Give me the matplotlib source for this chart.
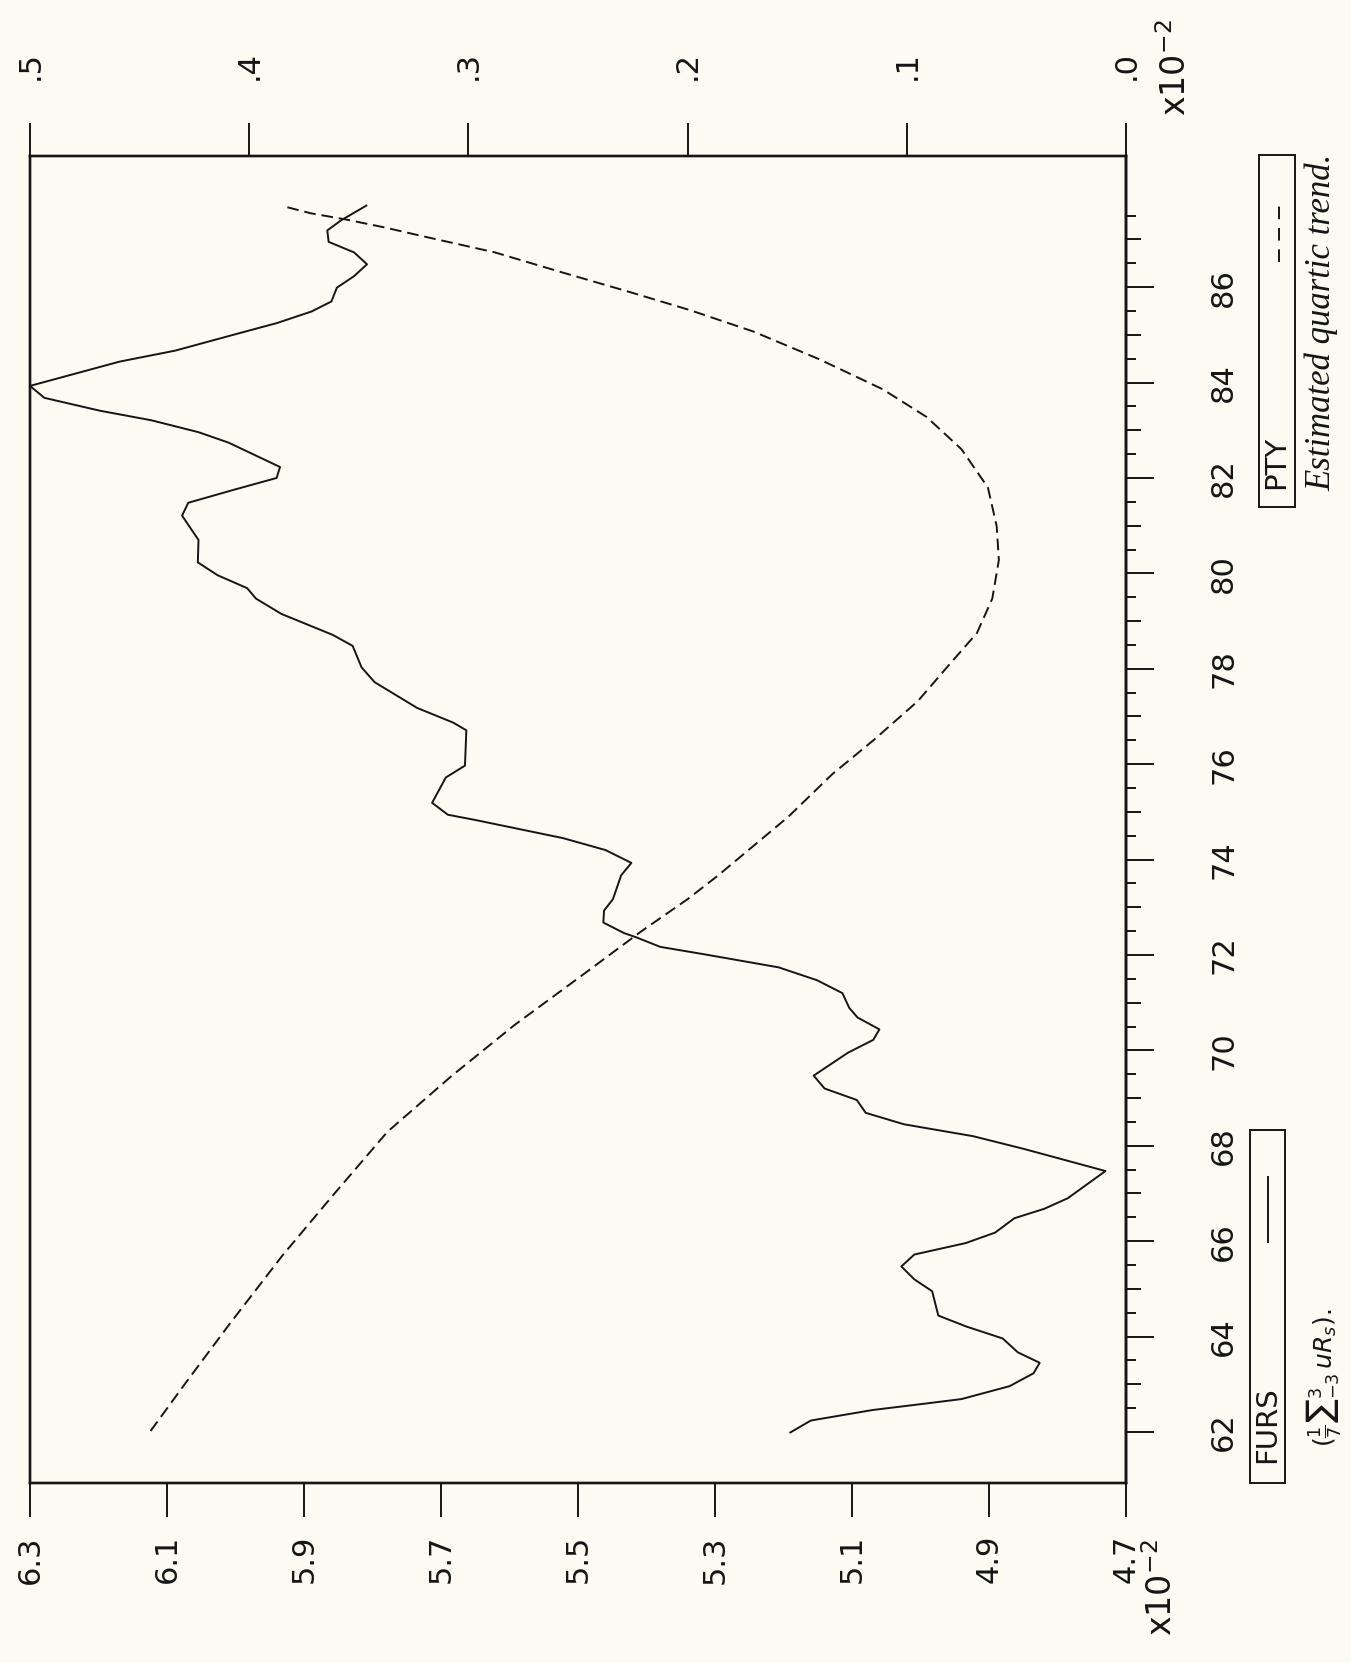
import matplotlib.pyplot as plt
from matplotlib.lines import Line2D
from matplotlib.patches import Rectangle
import numpy as np

# FURS, smoothed (1/7 sum over -3..3), units x10^-2
furs_year = [61.99, 62.24, 62.46, 62.60, 62.69, 62.96, 63.23, 63.45, 63.67, 63.96,
             64.21, 64.44, 64.95, 65.20, 65.47, 65.72, 65.96, 66.18, 66.48, 66.68,
             66.90, 67.47, 67.93, 68.20, 68.45, 68.69, 68.96, 69.20, 69.47, 69.95,
             70.22, 70.44, 70.69, 70.89, 71.20, 71.47, 71.74, 72.01, 72.17, 72.37,
             72.46, 72.68, 72.93, 73.17, 73.67, 73.93, 74.20, 74.45, 74.83, 74.94,
             75.19, 75.72, 75.97, 76.71, 76.87, 77.18, 77.72, 78.03, 78.48, 78.71,
             79.15, 79.47, 79.69, 79.96, 80.23, 80.70, 81.21, 81.48, 81.75, 82.00,
             82.23, 82.74, 82.96, 83.21, 83.41, 83.68, 83.93, 84.44, 84.67, 85.01,
             85.25, 85.49, 85.70, 85.99, 86.23, 86.48, 86.73, 86.95, 87.19, 87.40,
             87.71]
furs_val = [5.190, 5.160, 5.070, 4.990, 4.940, 4.870, 4.835, 4.826, 4.858, 4.880,
            4.933, 4.974, 4.983, 5.009, 5.028, 5.009, 4.934, 4.891, 4.863, 4.819,
            4.785, 4.730, 4.848, 4.923, 5.024, 5.080, 5.093, 5.140, 5.156, 5.106,
            5.069, 5.060, 5.092, 5.104, 5.114, 5.151, 5.207, 5.314, 5.380, 5.415,
            5.433, 5.463, 5.462, 5.449, 5.437, 5.422, 5.460, 5.522, 5.650, 5.690,
            5.713, 5.693, 5.665, 5.663, 5.682, 5.735, 5.797, 5.816, 5.829, 5.858,
            5.933, 5.970, 5.983, 6.026, 6.055, 6.054, 6.078, 6.069, 6.003, 5.940,
            5.935, 6.010, 6.054, 6.123, 6.198, 6.279, 6.300, 6.169, 6.088, 6.001,
            5.939, 5.889, 5.860, 5.852, 5.827, 5.808, 5.827, 5.864, 5.866, 5.846,
            5.809]

# PTY, estimated quartic trend, units x10^-2
pty_year = [62.02, 63.09, 64.26, 65.69, 66.95, 68.29, 69.45, 70.53, 71.51, 72.50,
            73.17, 73.67, 74.90, 75.79, 76.51, 77.32, 78.12, 78.75, 79.47, 80.28,
            80.99, 81.80, 82.60, 83.28, 83.86, 84.49, 85.07, 85.52, 85.92, 86.32,
            86.73, 87.07, 87.25, 87.42, 87.55, 87.68]
pty_val = [0.445, 0.428, 0.409, 0.385, 0.362, 0.337, 0.308, 0.279, 0.250, 0.221,
           0.200, 0.186, 0.154, 0.134, 0.115, 0.095, 0.080, 0.068, 0.061, 0.058,
           0.059, 0.063, 0.075, 0.091, 0.111, 0.140, 0.170, 0.199, 0.228, 0.258,
           0.288, 0.321, 0.338, 0.356, 0.372, 0.383]

furs_ticks = [6.3, 6.1, 5.9, 5.7, 5.5, 5.3, 5.1, 4.9, 4.7]
furs_labels = ["6.3", "6.1", "5.9", "5.7", "5.5", "5.3", "5.1", "4.9", "4.7"]
pty_ticks = [0.5, 0.4, 0.3, 0.2, 0.1, 0.0]
pty_labels = [".5", ".4", ".3", ".2", ".1", ".0"]
year_ticks = list(range(62, 87, 2))
year_labels = [str(y) for y in year_ticks]

W, H = 1351, 1663
bg = "#fbfbf1"
ink = "#151515"

plt.rcParams["font.family"] = ["DejaVu Sans"]


def fx(px):
    return px / W


def fy(py):
    return 1 - py / H


fig = plt.figure(figsize=(W / 100, H / 100), dpi=100, facecolor=bg)

# the page is turned: years run up the right side, FURS along the bottom
ax = fig.add_axes([fx(30), fy(1483), (1126 - 30) / W, (1483 - 156) / H])
ax.set_facecolor(bg)
ax.plot(furs_val, furs_year, color=ink, lw=1.4)
ax.set_xlim(6.3, 4.7)
ax.set_ylim(60.93, 88.75)

ax.set_xticks(furs_ticks)
ax.set_xticklabels(furs_labels, rotation=90)
ax.tick_params(axis="x", direction="out", length=24.5, width=1.4, pad=13,
               labelsize=22, colors=ink)

ax.yaxis.tick_right()
ax.set_yticks(year_ticks)
ax.set_yticklabels(year_labels, rotation=90, va="center")
ax.set_yticks(np.arange(62.5, 88, 1.0), minor=True)
ax.tick_params(axis="y", which="major", direction="out", length=20, width=1.4,
               pad=40, labelsize=22, colors=ink)
ax.tick_params(axis="y", which="minor", direction="out", length=7, width=1.4,
               colors=ink)
for s in ax.spines.values():
    s.set_linewidth(1.7)
    s.set_color(ink)

# odd years get a middle-length tick
sec = ax.secondary_yaxis("right")
sec.set_ticks(np.arange(63, 88, 2))
sec.tick_params(direction="out", length=11, width=1.4, labelright=False,
                colors=ink)
sec.spines["right"].set_linewidth(1.7)

ax2 = ax.twiny()
ax2.plot(pty_val, pty_year, color=ink, lw=1.4, dashes=(6, 3))
ax2.set_xlim(0.5, 0.0)
ax2.set_xticks(pty_ticks)
ax2.set_xticklabels(pty_labels, rotation=90)
ax2.tick_params(axis="x", direction="out", length=23.8, width=1.4, pad=31,
                labelsize=22, colors=ink)
for s in ax2.spines.values():
    s.set_linewidth(1.7)
    s.set_color(ink)

fig.text(fx(1162), fy(1588), "x10$^{-2}$", rotation=90, ha="center",
         va="center", fontsize=24, color=ink)
fig.text(fx(1176), fy(68), "x10$^{-2}$", rotation=90, ha="center",
         va="center", fontsize=24, color=ink)

# legend boxes
fig.add_artist(Rectangle((fx(1250), fy(1483)), (1285 - 1250) / W, (1483 - 1130) / H,
                         transform=fig.transFigure, fill=False, lw=1.4, ec=ink))
fig.text(fx(1267), fy(1463), "FURS", rotation=90, ha="center", va="bottom",
         fontsize=21, color=ink)
fig.add_artist(Line2D([fx(1268), fx(1268)], [fy(1242), fy(1177)],
                      transform=fig.transFigure, color=ink, lw=1.4))

fig.add_artist(Rectangle((fx(1259), fy(507)), (1295 - 1259) / W, (507 - 155) / H,
                         transform=fig.transFigure, fill=False, lw=1.4, ec=ink))
fig.text(fx(1276), fy(489), "PTY", rotation=90, ha="center", va="bottom",
         fontsize=21, color=ink)
fig.add_artist(Line2D([fx(1279), fx(1279)], [fy(262), fy(204)],
                      transform=fig.transFigure, color=ink, lw=1.4,
                      dashes=(6.5, 4.5)))

# handwritten notes
fig.text(fx(1322), fy(491), "Estimated quartic trend.", rotation=90,
         ha="center", va="bottom", family="Liberation Serif", style="italic",
         fontsize=25, color=ink)
fig.text(fx(1324), fy(1447), r"$(\frac{1}{7}{\sum}_{-3}^{3}\,uR_s)$.", rotation=90,
         ha="center", va="bottom", fontsize=18, color=ink)

fig.savefig("out.png", dpi=100, facecolor=bg)
